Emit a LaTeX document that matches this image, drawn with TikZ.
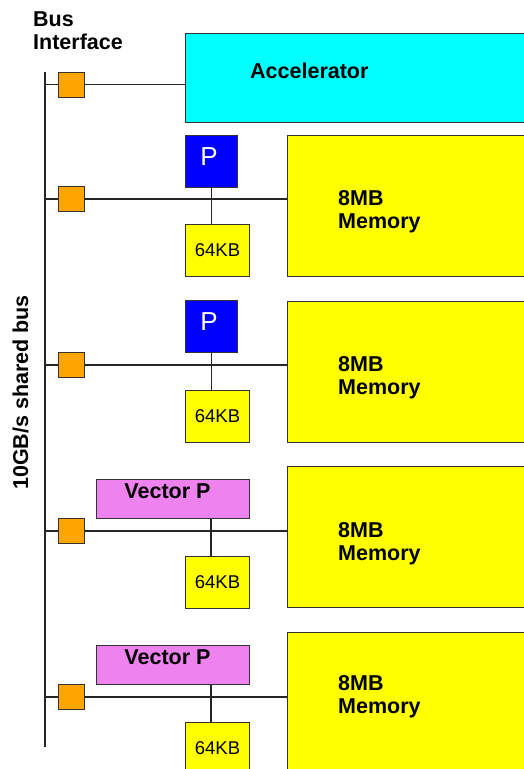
\documentclass[tikz,border=0pt]{standalone}
\usepackage{fontspec}
\setmainfont{Liberation Sans}
\definecolor{acccyan}{RGB}{0,255,255}
\definecolor{memyellow}{RGB}{255,255,0}
\definecolor{ifaceorange}{RGB}{255,165,0}
\definecolor{procblue}{RGB}{0,0,255}
\definecolor{vio}{RGB}{238,130,238}
\begin{document}
\begin{tikzpicture}[x=1pt,y=-1pt,
  box/.style={draw=black!80, line width=1pt, inner sep=0pt, anchor=north west},
  wire/.style={draw=black!85, line width=1.1pt},
  bif/.style={draw=black!80, line width=1pt, fill=ifaceorange, minimum width=26pt, minimum height=25pt, inner sep=0pt},
  boldtxt/.style={font=\bfseries\fontsize{21.5}{23}\selectfont, inner sep=0pt},
  proc/.style={box, fill=procblue, minimum width=52pt, minimum height=52pt},
  vproc/.style={box, fill=vio, minimum width=153pt, minimum height=39pt},
  cache/.style={box, fill=memyellow, minimum width=64pt, minimum height=52pt, font=\fontsize{18.5}{20}\selectfont},
  mem/.style={box, fill=memyellow, minimum width=260pt, minimum height=141pt},
  plbl/.style={text=white, inner sep=0pt, font=\fontsize{26}{28}\selectfont, anchor=base},
  memlbl/.style={boldtxt, align=left, anchor=north west}]
\useasboundingbox (0,0) rectangle (524,769);
\clip (0,0) rectangle (524,769);

% labels
\node[boldtxt, align=left, anchor=north west] (busif) at (33,12) {Bus\\Interface};
\node[boldtxt, rotate=90, anchor=base] (buslbl) at (28,392.5) {10GB/s shared bus};

% bus
\coordinate (bustop) at (45,72);
\coordinate (busbot) at (45,747);
\draw[wire] (bustop) -- (busbot);

% row 1: accelerator
\node[bif] (i1) at (71,84.5) {};
\node[box, fill=acccyan, minimum width=360pt, minimum height=89pt] (acc) at (185,33) {};
\node[boldtxt, anchor=base west] (acclbl) at (250,78) {Accelerator};
\draw[wire] (bustop |- i1) -- (i1.west);
\draw[wire] (i1.east) -- (acc.west |- i1);

% row 2
\node[bif] (i2) at (71,199) {};
\node[proc] (p2) at (185,135) {};
\node[plbl] (p2l) at (209,165) {P};
\node[cache] (c2) at (185,224) {64KB};
\node[mem] (m2) at (287,135) {};
\node[memlbl] (m2l) at (338,190) {8MB\\Memory};
\draw[wire] (bustop |- i2) -- (i2.west);
\draw[wire] (i2.east) -- (m2.west |- i2);
\draw[wire] (p2.south) -- (p2.south |- c2.north);

% row 3
\node[bif] (i3) at (71,365) {};
\node[proc] (p3) at (185,300) {};
\node[plbl] (p3l) at (209,330) {P};
\node[cache] (c3) at (185,390) {64KB};
\node[mem] (m3) at (287,301) {};
\node[memlbl] (m3l) at (338,356) {8MB\\Memory};
\draw[wire] (bustop |- i3) -- (i3.west);
\draw[wire] (i3.east) -- (m3.west |- i3);
\draw[wire] (p3.south) -- (p3.south |- c3.north);

% row 4
\node[bif] (i4) at (71,531) {};
\node[vproc] (v4) at (96,479) {};
\node[boldtxt, anchor=base] (v4l) at (167.5,498) {Vector P};
\node[cache] (c4) at (185,556) {64KB};
\node[mem] (m4) at (287,466) {};
\node[memlbl] (m4l) at (338,522) {8MB\\Memory};
\coordinate (j4) at (211,531);
\draw[wire] (bustop |- i4) -- (i4.west);
\draw[wire] (i4.east) -- (m4.west |- i4);
\draw[wire] (j4 |- v4.south) -- (j4 |- c4.north);

% row 5
\node[bif] (i5) at (71,697) {};
\node[vproc] (v5) at (96,645) {};
\node[boldtxt, anchor=base] (v5l) at (167.5,664) {Vector P};
\node[cache] (c5) at (185,722) {64KB};
\node[mem] (m5) at (287,632) {};
\node[memlbl] (m5l) at (338,675) {8MB\\Memory};
\coordinate (j5) at (211,697);
\draw[wire] (bustop |- i5) -- (i5.west);
\draw[wire] (i5.east) -- (m5.west |- i5);
\draw[wire] (j5 |- v5.south) -- (j5 |- c5.north);
\end{tikzpicture}
\end{document}
